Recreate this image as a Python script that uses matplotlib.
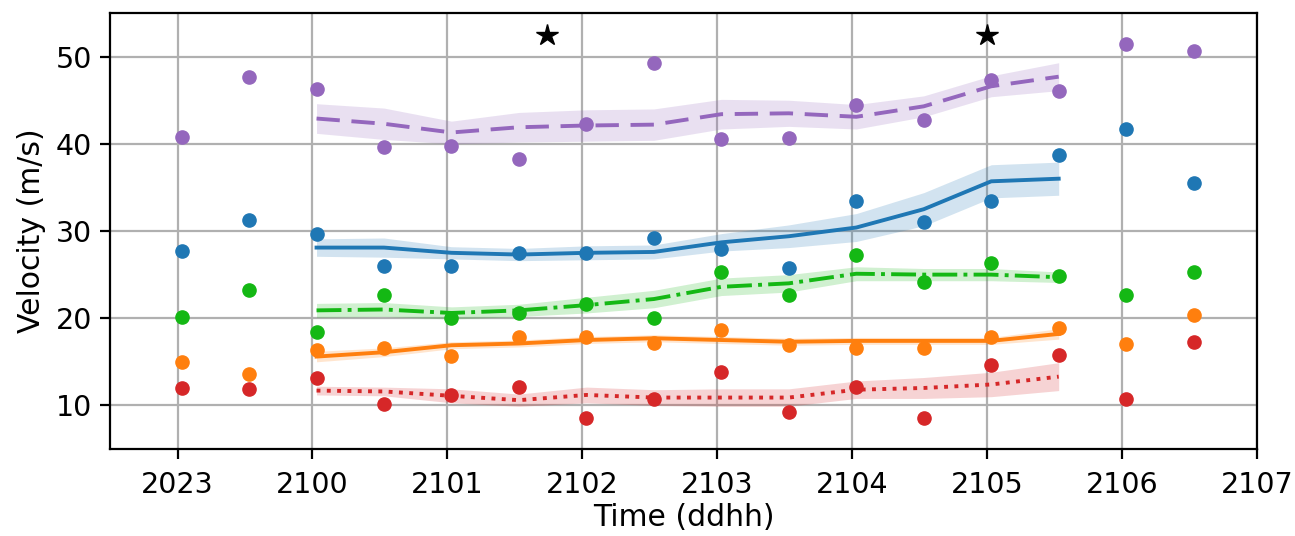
import matplotlib
matplotlib.use('Agg')
import matplotlib.pyplot as plt

tick_labels = ['2023', '2100', '2101', '2102', '2103', '2104', '2105', '2106', '2107']

# observation times (hours after 20/23:00) and values
obs_t = [0.03, 0.53, 1.03, 1.53, 2.03, 2.53, 3.03, 3.53,
         4.03, 4.53, 5.03, 5.53, 6.03, 6.53, 7.03, 7.53]
purple_obs = [40.8, 47.7, 46.3, 39.6, 39.7, 38.3, 42.3, 49.3, 40.5, 40.7, 44.4, 42.7, 47.3, 46.1, 51.4, 50.6]
blue_obs = [27.7, 31.3, 29.7, 26.0, 26.0, 27.5, 27.5, 29.2, 27.9, 25.8, 33.4, 31.0, 33.4, 38.7, 41.7, 35.5]
green_obs = [20.1, 23.2, 18.4, 22.7, 20.0, 20.6, 21.6, 20.0, 25.3, 22.7, 27.2, 24.2, 26.3, 24.8, 22.7, 25.3]
orange_obs = [15.0, 13.6, 16.3, 16.6, 15.7, 17.8, 17.8, 17.2, 18.7, 16.9, 16.6, 16.6, 17.8, 18.9, 17.0, 20.4]
red_obs = [12.0, 11.9, 13.1, 10.2, 11.2, 12.1, 8.6, 10.7, 13.8, 9.3, 12.1, 8.5, 14.6, 15.8, 10.7, 17.3]

# model mean and spread
mod_t = obs_t[2:14]
purple_mean = [42.9, 42.3, 41.3, 41.9, 42.1, 42.2, 43.4, 43.5, 43.1, 44.3, 46.6, 47.7]
purple_sd = [1.7, 1.8, 1.3, 1.7, 1.8, 1.8, 1.7, 1.5, 1.4, 1.2, 1.2, 1.6]
blue_mean = [28.1, 28.1, 27.5, 27.3, 27.5, 27.6, 28.7, 29.4, 30.4, 32.5, 35.7, 36.0]
blue_sd = [1.0, 1.1, 0.7, 0.7, 0.8, 0.8, 1.0, 1.3, 1.6, 1.9, 1.9, 1.9]
green_mean = [20.9, 21.0, 20.6, 20.9, 21.5, 22.2, 23.6, 24.0, 25.1, 25.0, 25.0, 24.7]
green_sd = [0.8, 0.8, 0.7, 0.7, 0.9, 1.0, 1.0, 1.0, 0.8, 0.7, 0.7, 0.6]
orange_mean = [15.6, 16.1, 16.9, 17.1, 17.5, 17.7, 17.5, 17.3, 17.4, 17.4, 17.4, 18.2]
orange_sd = [0.6, 0.5, 0.4, 0.4, 0.4, 0.4, 0.4, 0.4, 0.4, 0.4, 0.4, 0.6]
red_mean = [11.7, 11.6, 11.1, 10.6, 11.2, 10.9, 10.9, 10.9, 11.8, 12.0, 12.4, 13.3]
red_sd = [0.5, 0.5, 0.8, 0.7, 0.9, 0.9, 1.0, 1.0, 1.0, 1.2, 1.4, 1.6]

star_t = [2.74, 6.0]
star_v = [52.5, 52.5]

plt.rcParams['font.size'] = 20.5

fig = plt.figure(figsize=(12.95, 5.36), dpi=100)
ax = fig.add_axes([0.085, 0.1623, 0.8857, 0.8134])

series = [
    (purple_obs, purple_mean, purple_sd, 'tab:purple', {'dashes': (6, 3)}),
    (blue_obs, blue_mean, blue_sd, 'tab:blue', {'linestyle': '-'}),
    (green_obs, green_mean, green_sd, '#14b814', {'linestyle': '-.'}),
    (orange_obs, orange_mean, orange_sd, 'tab:orange', {'linestyle': '-'}),
    (red_obs, red_mean, red_sd, 'tab:red', {'linestyle': ':'}),
]

for obs, mean, sd, col, ls in series:
    lo = [m - s for m, s in zip(mean, sd)]
    hi = [m + s for m, s in zip(mean, sd)]
    ax.fill_between(mod_t, lo, hi, color=col, alpha=0.2, linewidth=0, zorder=2)
    ax.plot(mod_t, mean, color=col, linewidth=2.8, zorder=3, **ls)
    ax.plot(obs_t, obs, 'o', color=col, markersize=9.5, zorder=4)

ax.plot(star_t, star_v, '*', color='black', markersize=16, zorder=5)

ax.set_xlim(-0.5, 8)
ax.set_ylim(5, 55)
ax.set_xticks(range(len(tick_labels)))
ax.set_xticklabels(tick_labels)
ax.set_yticks([10, 20, 30, 40, 50])
ax.grid(True, color='#b0b0b0', linewidth=1.6)
ax.set_axisbelow(True)
for sp in ax.spines.values():
    sp.set_linewidth(1.6)
ax.tick_params(width=1.6, length=7)
ax.tick_params(axis='x', pad=9)
ax.tick_params(axis='y', pad=6)
ax.set_xlabel('Time (ddhh)', fontsize=21.5, labelpad=3)
ax.set_ylabel('Velocity (m/s)', fontsize=21.5, labelpad=7)

fig.savefig('out.png', dpi=100)
